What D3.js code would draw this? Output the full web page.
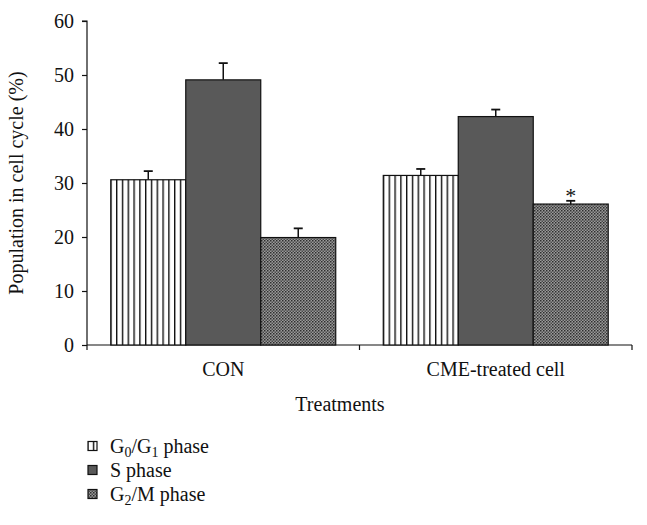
<!DOCTYPE html>
<html><head><meta charset="utf-8">
<script src="https://cdn.jsdelivr.net/npm/d3@7"></script>
<style>body{margin:0;background:#fff}svg{display:block}text{font-family:"Liberation Serif","DejaVu Serif",serif;fill:#111}</style>
</head><body><svg id="c" width="647" height="525"></svg>
<script>
const categories = ["CON", "CME-treated cell"];
const phases = ["G0G1", "S", "G2M"];
const g0g1Values = [30.6, 31.4];
const g0g1Errors = [1.6, 1.2];
const sValues = [49.1, 42.3];
const sErrors = [3.1, 1.3];
const g2mValues = [19.9, 26.1];
const g2mErrors = [1.7, 0.6];
const significance = ["", "*"]; // applies to G2/M
const yTicks = [0, 10, 20, 30, 40, 50, 60];

const FS = "20px";
const svg = d3.select("#c");
const defs = svg.append("defs");
// vertical stripes
const p1 = defs.append("pattern").attr("id","pStripe").attr("patternUnits","userSpaceOnUse").attr("width",5.8).attr("height",10);
p1.append("rect").attr("width",5.8).attr("height",10).attr("fill","#fff");
p1.append("rect").attr("x",0).attr("width",1.4).attr("height",10).attr("fill","#111");
// dotted texture
const p3 = defs.append("pattern").attr("id","pDot").attr("patternUnits","userSpaceOnUse").attr("width",3).attr("height",3);
p3.append("rect").attr("width",3).attr("height",3).attr("fill","#9a9a9a");
p3.append("rect").attr("x",0).attr("y",0).attr("width",1.5).attr("height",1.5).attr("fill","#2e2e2e");
p3.append("rect").attr("x",1.5).attr("y",1.5).attr("width",1.5).attr("height",1.5).attr("fill","#4a4a4a");

const fills = {G0G1:"url(#pStripe)", S:"#595959", G2M:"url(#pDot)"};
const vals = {G0G1:g0g1Values, S:sValues, G2M:g2mValues};
const errs = {G0G1:g0g1Errors, S:sErrors, G2M:g2mErrors};

const x0 = d3.scaleBand().domain(categories).range([87, 632]).paddingInner(0).paddingOuter(0);
const x1 = d3.scaleBand().domain(phases).range([0, x0.bandwidth()]).paddingOuter(0.317).paddingInner(0);
const y = d3.scaleLinear().domain([0, 60]).range([345, 21]);

// y axis
const yAxis = svg.append("g").attr("transform","translate(87,0)")
  .call(d3.axisLeft(y).tickValues(yTicks).tickSize(5).tickPadding(8));
yAxis.selectAll("path,line").attr("stroke","#111").attr("stroke-width",1.2);
yAxis.select(".domain").attr("d","M-5,21H0V345");
yAxis.selectAll("text").style("font-size",FS).style("font-family","Liberation Serif, serif").attr("fill","#111");

// x axis
const xg = svg.append("g");
xg.append("line").attr("x1",87).attr("x2",632).attr("y1",345).attr("y2",345).attr("stroke","#111").attr("stroke-width",1.2);
const bounds = [87, x0(categories[1]), 632];
xg.selectAll("line.t").data(bounds).enter().append("line").attr("class","t")
  .attr("x1",d=>d).attr("x2",d=>d).attr("y1",345).attr("y2",350).attr("stroke","#111").attr("stroke-width",1.2);
xg.selectAll("text").data(categories).enter().append("text")
  .attr("x",d=>x0(d)+x0.bandwidth()/2).attr("y",376).attr("text-anchor","middle").style("font-size",FS).text(d=>d);

// bars
categories.forEach((c,i)=>{
  phases.forEach(p=>{
    const bx = x0(c)+x1(p), bw = x1.bandwidth();
    const v = vals[p][i], e = errs[p][i];
    const cx = bx + bw/2;
    svg.append("line").attr("x1",cx).attr("x2",cx).attr("y1",y(v)).attr("y2",y(v+e)).attr("stroke","#111").attr("stroke-width",1.5);
    svg.append("line").attr("x1",cx-4.5).attr("x2",cx+4.5).attr("y1",y(v+e)).attr("y2",y(v+e)).attr("stroke","#111").attr("stroke-width",1.8);
    svg.append("rect").attr("x",bx).attr("y",y(v)).attr("width",bw).attr("height",y(0)-y(v))
      .attr("fill",fills[p]).attr("stroke","#111").attr("stroke-width",1.2);
    if (p==="G2M" && significance[i]) {
      svg.append("text").attr("x",cx).attr("y",y(v+e)+2).attr("text-anchor","middle").style("font-size","22px").text(significance[i]);
    }
  });
});

// axis titles
svg.append("text").attr("transform","translate(23,183) rotate(-90)").attr("text-anchor","middle").style("font-size",FS).text("Population in cell cycle (%)");
svg.append("text").attr("x",340).attr("y",411).attr("text-anchor","middle").style("font-size",FS).text("Treatments");

// legend
const leg = [
  {p:"G0G1", parts:[["G",0],["0",1],["/G",0],["1",1],[" phase",0]]},
  {p:"S", parts:[["S phase",0]]},
  {p:"G2M", parts:[["G",0],["2",1],["/M phase",0]]}
];
leg.forEach((d,i)=>{
  const cy = 446 + i*24;
  svg.append("rect").attr("x",88).attr("y",cy-4.5).attr("width",9).attr("height",9).attr("fill",fills[d.p]).attr("stroke","#111").attr("stroke-width",1.2);
  const t = svg.append("text").attr("x",110).attr("y",cy+6.5).style("font-size",FS);
  let prevSub = false;
  d.parts.forEach(([s,sub])=>{
    const ts = t.append("tspan").text(s);
    if (sub) { ts.attr("dy",4).style("font-size","14px"); prevSub = true; }
    else if (prevSub) { ts.attr("dy",-4); prevSub = false; }
  });
});
</script></body></html>
